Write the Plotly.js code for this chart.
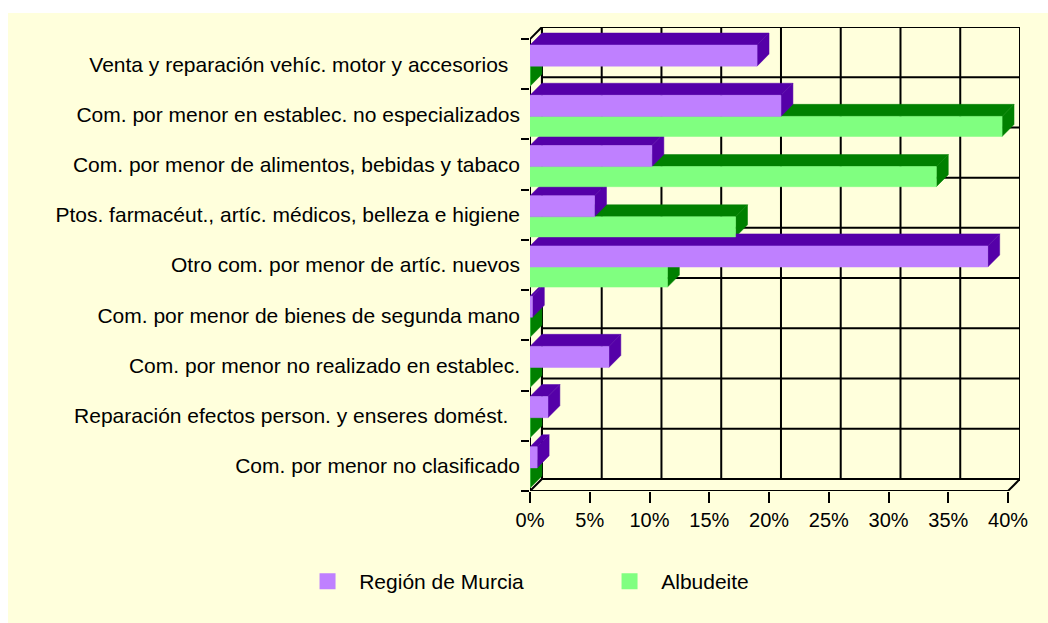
<!DOCTYPE html>
<html><head><meta charset="utf-8">
<script src="https://cdn.plot.ly/plotly-3.0.1.min.js"></script>
<style>html,body{margin:0;padding:0;background:#ffffff;} #chart{position:absolute;left:8px;top:13px;width:1040px;height:610px;}</style>
</head><body><div id="chart"></div>
<script>
const categories = [
  'Venta y reparación vehíc. motor y accesorios\u00a0\u00a0',
  'Com. por menor en establec. no especializados',
  'Com. por menor de alimentos, bebidas y tabaco',
  'Ptos. farmacéut., artíc. médicos, belleza e higiene',
  'Otro com. por menor de artíc. nuevos',
  'Com. por menor de bienes de segunda mano',
  'Com. por menor no realizado en establec.',
  'Reparación efectos person. y enseres domést.\u00a0\u00a0',
  'Com. por menor no clasificado'
];
const murciaValues    = [19.0, 21.0, 10.2, 5.4, 38.3, 0.2, 6.6, 1.5, 0.6];
const albudeiteValues = [0, 39.5, 34.0, 17.2, 11.5, 0, 0, 0, 0];
const seriesNames = ['Región de Murcia', 'Albudeite'];
const xTickValues = [0, 5, 10, 15, 20, 25, 30, 35, 40];
const xTickLabels = ['0%', '5%', '10%', '15%', '20%', '25%', '30%', '35%', '40%'];

const N = categories.length;
const XMAX = 40;
const DX = 1.0, DY = 0.24;
const PURPLE_BAND = [0.12, 0.54], GREEN_BAND = [0.54, 0.94];
const COLORS = {
  purpleFront: '#BF80FF', purpleDark: '#5500A8',
  greenFront: '#80FF80', greenDark: '#008000'
};
const FONT = 'Arial, "Liberation Sans", sans-serif';
const LEGEND_PAD = '\u00a0\u00a0';

function faces(values, band) {
  const top = {x: [], y: []}, side = {x: [], y: []}, front = {x: [], y: []};
  values.forEach((v, i) => {
    const a = i + band[0], b = i + band[1];
    front.x.push(0, v, v, 0, 0, null); front.y.push(a, a, b, b, a, null);
    top.x.push(0, v, v + DX, DX, 0, null); top.y.push(a, a, a - DY, a - DY, a, null);
    side.x.push(v, v + DX, v + DX, v, v, null); side.y.push(a, a - DY, b - DY, b, a, null);
  });
  return {top, side, front};
}
function poly(f, color) {
  return {type: 'scatter', mode: 'lines', x: f.x, y: f.y, fill: 'toself',
    fillcolor: color, line: {color: color, width: 0.5}, showlegend: false, hoverinfo: 'skip'};
}

// frame: back wall grid, left wall and floor edges
const fx = [], fy = [];
function seg(x0, y0, x1, y1) { fx.push(x0, x1, null); fy.push(y0, y1, null); }
xTickValues.forEach(t => seg(t + DX, -DY, t + DX, N - DY));
for (let k = 0; k <= N; k++) seg(DX, k - DY, XMAX + DX, k - DY);
seg(0, 0, 0, N);
seg(0, 0, DX, -DY);
seg(0, N, DX, N - DY);
seg(DX, -DY, DX, N - DY);
seg(0, N, XMAX, N);
seg(XMAX, N, XMAX + DX, N - DY);

const m = faces(murciaValues, PURPLE_BAND);
const g = faces(albudeiteValues, GREEN_BAND);

const traces = [
  {type: 'scatter', mode: 'lines', x: fx, y: fy, line: {color: '#000000', width: 2},
   showlegend: false, hoverinfo: 'skip'},
  poly(g.top, COLORS.greenDark),
  poly(g.side, COLORS.greenDark),
  poly(m.top, COLORS.purpleDark),
  poly(m.side, COLORS.purpleDark),
  poly(g.front, COLORS.greenFront),
  poly(m.front, COLORS.purpleFront),
  {type: 'scatter', mode: 'markers', x: [null], y: [null], yaxis: 'y2', name: LEGEND_PAD + seriesNames[0],
   marker: {symbol: 'square', size: 16, color: COLORS.purpleFront}},
  {type: 'scatter', mode: 'markers', x: [null], y: [null], yaxis: 'y2', name: LEGEND_PAD + seriesNames[1],
   marker: {symbol: 'square', size: 16, color: COLORS.greenFront}}
];

const layout = {
  width: 1040, height: 610,
  margin: {l: 522, r: 28, t: 14, b: 132},
  paper_bgcolor: '#FFFFDC', plot_bgcolor: 'rgba(0,0,0,0)',
  font: {family: FONT, size: 20, color: '#000000'},
  showlegend: true,
  legend: {orientation: 'h', x: -0.454, xanchor: 'left', y: -0.195, yanchor: 'middle',
    entrywidth: 257, entrywidthmode: 'pixels', font: {family: FONT, size: 21, color: '#000'},
    bgcolor: 'rgba(0,0,0,0)'},
  hovermode: false, dragmode: false,
  xaxis: {range: [0, XMAX + DX], tickvals: xTickValues, ticktext: xTickLabels,
    ticks: 'outside', ticklen: 11, tickwidth: 2, tickcolor: '#000',
    showgrid: false, zeroline: false, showline: false, fixedrange: true,
    tickfont: {family: FONT, size: 20, color: '#000'}},
  yaxis: {range: [N, -DY], tickvals: categories.map((c, i) => i + 0.5), ticktext: categories,
    ticks: '', showgrid: false, zeroline: false, showline: false, fixedrange: true,
    ticklabelstandoff: 9, tickfont: {family: FONT, size: 21, color: '#000'}},
  yaxis2: {range: [N, -DY], overlaying: 'y', side: 'left',
    tickvals: categories.map((c, i) => i).concat([N]),
    ticks: 'outside', ticklen: 8, tickwidth: 2, tickcolor: '#000', showticklabels: false,
    showgrid: false, zeroline: false, showline: false, fixedrange: true}
};

Plotly.newPlot('chart', traces, layout, {displayModeBar: false, staticPlot: true});
</script>
</body></html>
